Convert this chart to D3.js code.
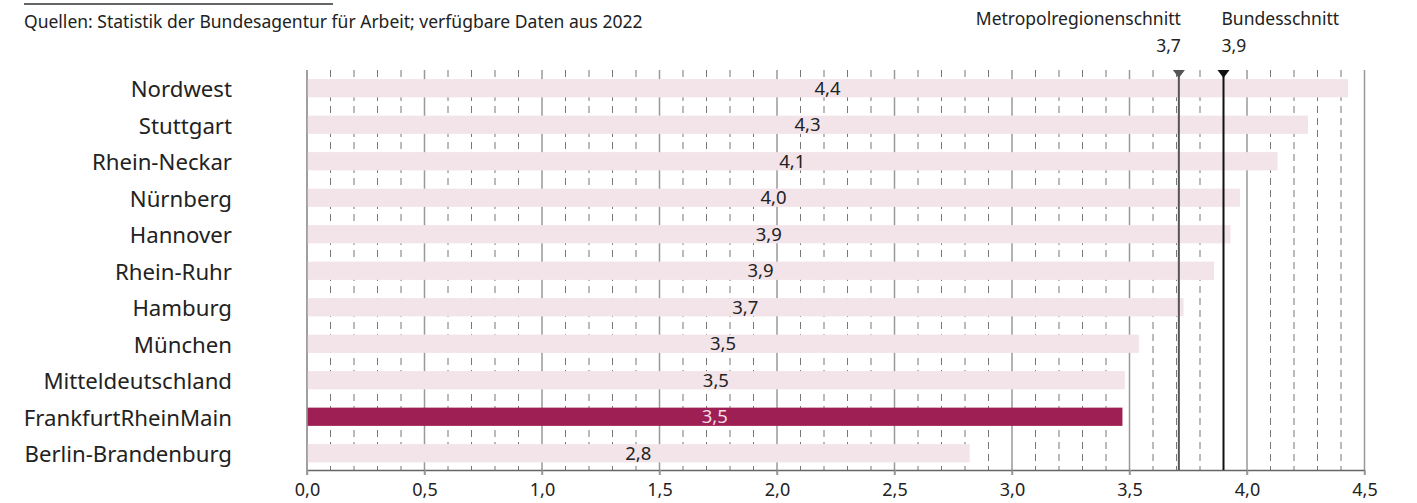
<!DOCTYPE html>
<html>
<head>
<meta charset="utf-8">
<script src="https://cdn.jsdelivr.net/npm/d3@7"></script>
<style>
  body { margin: 0; background: #fff; }
  svg text { font-family: "Noto Sans", sans-serif; fill: #222; }
</style>
</head>
<body>
<svg id="chart" width="1417" height="503"></svg>
<script>
const regions = ["Nordwest", "Stuttgart", "Rhein-Neckar", "Nürnberg", "Hannover", "Rhein-Ruhr",
  "Hamburg", "München", "Mitteldeutschland", "FrankfurtRheinMain", "Berlin-Brandenburg"];
const values = [4.43, 4.26, 4.13, 3.97, 3.93, 3.86, 3.73, 3.54, 3.48, 3.47, 2.82];
const highlight = "FrankfurtRheinMain";
const refNames = ["Metropolregionenschnitt", "Bundesschnitt"];
const refValues = [3.71, 3.9];
const refLabels = ["3,7", "3,9"];
const xTicks = [0, 0.5, 1, 1.5, 2, 2.5, 3, 3.5, 4, 4.5];
const subtitle = "Quellen: Statistik der Bundesagentur für Arbeit; verfügbare Daten aus 2022";

const de = d3.formatLocale({ decimal: ",", thousands: ".", grouping: [3], currency: ["", " €"] });
const fmt = de.format(".1f");

const svg = d3.select("#chart");
const x = d3.scaleLinear().domain([0, 4.5]).range([307, 1364.5]);
const y = d3.scaleBand().domain(regions).range([70, 471.5]).paddingInner(0.5).paddingOuter(0.25);
const yTop = 70, yBottom = 470;

// cut-off title rule + subtitle
svg.append("line")
  .attr("x1", 24).attr("x2", 333).attr("y1", 4).attr("y2", 4)
  .attr("stroke", "#333").attr("stroke-width", 1.5);
svg.append("text")
  .attr("x", 24).attr("y", 28)
  .style("font-size", "17.5px")
  .text(subtitle);

// grid
const minor = d3.range(1, 45).map(d => d / 10).filter(d => Math.round(d * 10) % 5 !== 0);
svg.append("g").selectAll("line")
  .data(minor)
  .join("line")
  .attr("x1", d => x(d)).attr("x2", d => x(d))
  .attr("y1", yTop).attr("y2", yBottom)
  .attr("stroke", "#777").attr("stroke-width", 1)
  .attr("stroke-dasharray", "7,5");

svg.append("g").selectAll("line")
  .data(xTicks)
  .join("line")
  .attr("x1", d => x(d)).attr("x2", d => x(d))
  .attr("y1", yTop).attr("y2", yBottom + 5)
  .attr("stroke", "#999").attr("stroke-width", 1.5);

// bars
svg.append("g").selectAll("rect")
  .data(regions)
  .join("rect")
  .attr("x", x(0))
  .attr("y", d => y(d))
  .attr("width", (d, i) => x(values[i]) - x(0))
  .attr("height", y.bandwidth())
  .attr("fill", d => d === highlight ? "#9e1f53" : "#f3e4ea");

svg.append("line")
  .attr("x1", x(0)).attr("x2", x(0)).attr("y1", yTop).attr("y2", yBottom + 5)
  .attr("stroke", "#999").attr("stroke-width", 1.5);

// value labels
svg.append("g").selectAll("text")
  .data(regions)
  .join("text")
  .attr("x", (d, i) => x(values[i] / 2))
  .attr("y", d => y(d) + y.bandwidth() / 2)
  .attr("dy", "0.35em")
  .attr("text-anchor", "middle")
  .style("font-size", "18.5px")
  .style("fill", d => d === highlight ? "#f4dce6" : "#222")
  .text((d, i) => fmt(values[i]));

// category labels
svg.append("g").selectAll("text")
  .data(regions)
  .join("text")
  .attr("x", 232)
  .attr("y", d => y(d) + y.bandwidth() / 2 + 1)
  .attr("dy", "0.35em")
  .attr("text-anchor", "end")
  .style("font-size", "22.2px")
  .text(d => d);

// x axis
const xAxis = svg.append("g")
  .attr("transform", `translate(0,${yBottom})`)
  .call(d3.axisBottom(x).tickValues(xTicks).tickFormat(fmt).tickSize(5).tickSizeOuter(0));
xAxis.select(".domain").attr("stroke", "#666").attr("stroke-width", 1.5);
xAxis.selectAll(".tick line").attr("stroke", "#999").attr("stroke-width", 1.5);
xAxis.selectAll(".tick text")
  .attr("y", 13)
  .style("font-size", "18px")
  .style("font-family", "'Noto Sans', sans-serif")
  .attr("fill", "#222");

// reference lines
const refColors = ["#555", "#111"];
refValues.forEach((v, i) => {
  const g = svg.append("g");
  const cx = x(v);
  g.append("line")
    .attr("x1", cx).attr("x2", cx).attr("y1", yTop + 2).attr("y2", yBottom)
    .attr("stroke", refColors[i]).attr("stroke-width", 2);
  g.append("path")
    .attr("d", `M${cx - 6},${yTop} L${cx + 6},${yTop} L${cx},${yTop + 8} Z`)
    .attr("fill", refColors[i]);
  const anchor = i === 0 ? "end" : "start";
  const dx = i === 0 ? 2 : -2;
  g.append("text")
    .attr("x", cx + dx).attr("y", 25)
    .attr("text-anchor", anchor)
    .style("font-size", "17.5px")
    .text(refNames[i]);
  g.append("text")
    .attr("x", cx + dx).attr("y", 52)
    .attr("text-anchor", anchor)
    .style("font-size", "17.5px")
    .text(refLabels[i]);
});
</script>
</body>
</html>
